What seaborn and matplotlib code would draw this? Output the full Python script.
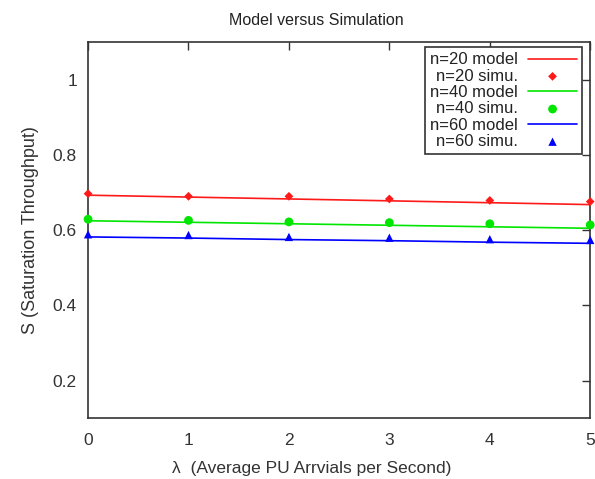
import matplotlib
matplotlib.use("Agg")
import matplotlib.pyplot as plt
import seaborn as sns
import pandas as pd

lam = [0, 1, 2, 3, 4, 5]
model_n20 = [0.693, 0.688, 0.683, 0.678, 0.673, 0.668]
simu_n20 = [0.697, 0.690, 0.690, 0.683, 0.679, 0.676]
model_n40 = [0.625, 0.621, 0.617, 0.613, 0.609, 0.605]
simu_n40 = [0.629, 0.626, 0.622, 0.620, 0.617, 0.614]
model_n60 = [0.582, 0.579, 0.575, 0.572, 0.568, 0.565]
simu_n60 = [0.589, 0.587, 0.582, 0.580, 0.576, 0.574]

sns.set_style("white")
plt.rcParams['font.family'] = ['Liberation Sans', 'DejaVu Sans']

fig = plt.figure(figsize=(5.95, 4.79), dpi=100)
ax = fig.add_axes([0.148, 0.127, 0.844, 0.785])

series = [
    ("n=20", model_n20, simu_n20, "#ff1a1a", "D", 20),
    ("n=40", model_n40, simu_n40, "#00e600", "o", 40),
    ("n=60", model_n60, simu_n60, "#0000ff", "^", 36),
]
for name, mod, sim, col, mk, ms in series:
    dfm = pd.DataFrame({"x": lam, "y": mod})
    dfs = pd.DataFrame({"x": lam, "y": sim})
    sns.lineplot(data=dfm, x="x", y="y", ax=ax, color=col, lw=1.2,
                 label=f"{name} model")
    sns.scatterplot(data=dfs, x="x", y="y", ax=ax, color=col, marker=mk,
                    s=ms, edgecolor="none", label=f"{name} simu.", clip_on=False, zorder=5)

ax.set_xlim(0, 5)
ax.set_ylim(0.1, 1.1)
ax.set_xticks([0, 1, 2, 3, 4, 5])
ax.set_yticks([0.2, 0.4, 0.6, 0.8, 1.0])
ax.set_yticklabels(["0.2", "0.4", "0.6", "0.8", "1"])
ax.tick_params(direction="in", length=6, width=1, top=True, right=True,
               labelsize=12.5, colors="#333333", labelcolor="#333333")
ax.tick_params(axis="x", pad=11)
ax.tick_params(axis="y", pad=8)
for sp in ax.spines.values():
    sp.set_color("#333333")
    sp.set_linewidth(1.2)

ax.set_xlabel("λ  (Average PU Arrvials per Second)", fontsize=12.5, color="#333333", labelpad=7)
ax.xaxis.set_label_coords(0.446, -0.115)
ax.set_ylabel("S (Saturation Throughput)", fontsize=13, color="#333333", labelpad=10)
ax.set_title("Model versus Simulation", fontsize=11.5, color="#222222", x=0.454, pad=12)

leg = ax.legend(loc="upper right", bbox_to_anchor=(0.983, 0.986), markerfirst=False,
                fancybox=False, framealpha=1, edgecolor="#333333", fontsize=12,
                borderpad=0.3, labelspacing=0.08, handlelength=2.9, handletextpad=0.65,
                borderaxespad=0)
leg.get_frame().set_linewidth(1.2)
for t in leg.get_texts():
    t.set_color("#222222")

fig.savefig("out.png", dpi=100)
